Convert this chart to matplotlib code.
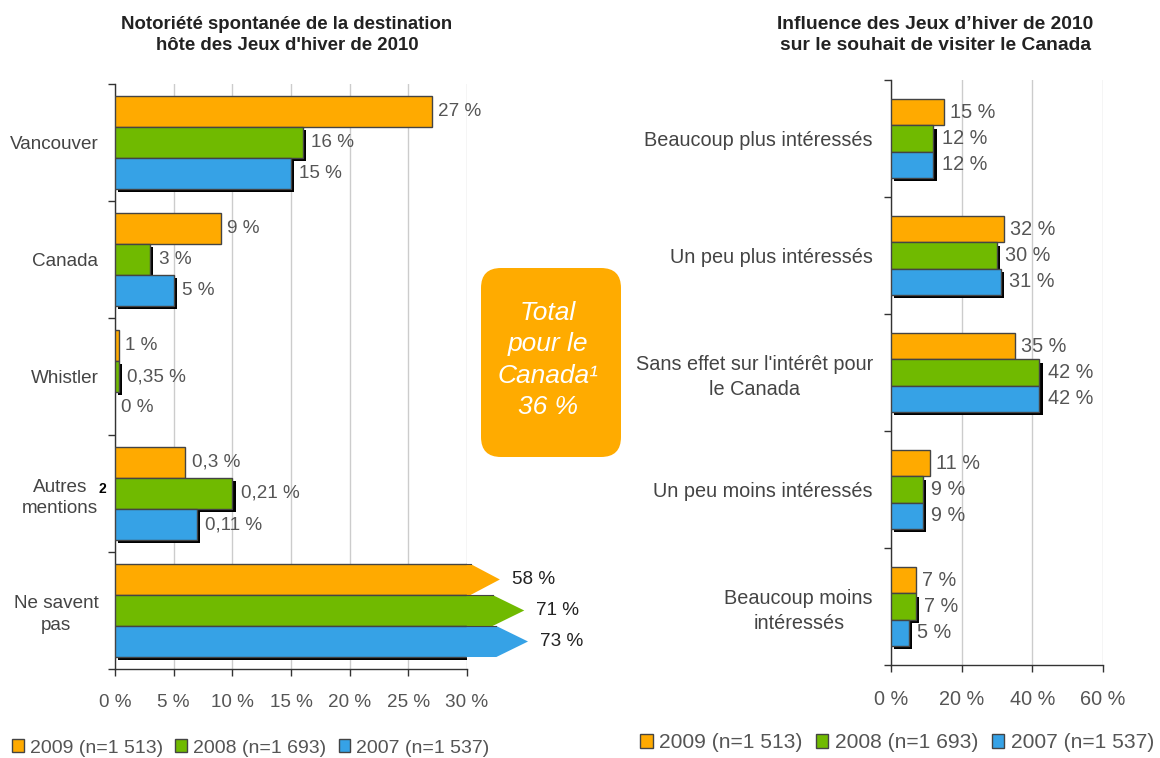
import matplotlib
matplotlib.use('Agg')
import matplotlib.pyplot as plt
from matplotlib.patches import Patch, Polygon, FancyBboxPatch
import matplotlib.patheffects as pe
import numpy as np

plt.rcParams['font.family'] = ['Liberation Sans', 'DejaVu Sans']

# ---------------- data ----------------
series = ['2009 (n=1 513)', '2008 (n=1 693)', '2007 (n=1 537)']
colors = ['#FFAA00', '#70BA00', '#36A2E6']

left_title = "Notoriété spontanée de la destination\nhôte des Jeux d'hiver de 2010"
left_cats = ['Vancouver', 'Canada', 'Whistler', 'Autres\nmentions', 'Ne savent\npas']
left_2009 = [27, 9, 0.3, 6, 58]
left_2008 = [16, 3, 0.3, 10, 71]
left_2007 = [15, 5, 0, 7, 73]
left_lbl_2009 = ['27 %', '9 %', '1 %', '0,3 %', '58 %']
left_lbl_2008 = ['16 %', '3 %', '0,35 %', '0,21 %', '71 %']
left_lbl_2007 = ['15 %', '5 %', '0 %', '0,11 %', '73 %']
left_xticks = [0, 5, 10, 15, 20, 25, 30]

right_title = "Influence des Jeux d’hiver de 2010\nsur le souhait de visiter le Canada"
right_cats = ['Beaucoup plus intéressés', 'Un peu plus intéressés',
              "Sans effet sur l'intérêt pour\nle Canada", 'Un peu moins intéressés',
              'Beaucoup moins\nintéressés']
right_2009 = [15, 32, 35, 11, 7]
right_2008 = [12, 30, 42, 9, 7]
right_2007 = [12, 31, 42, 9, 5]
right_xticks = [0, 20, 40, 60]

box_text = 'Total\npour le\nCanada¹\n36 %'
footnote_autres = '2'

# ---------------- figure ----------------
W, H = 1160, 758
fig = plt.figure(figsize=(W / 100, H / 100), dpi=100)

def fx(px):
    return px / W

def fy(py):
    return 1 - py / H

TXT = '#555555'
CAT = '#444444'
EDGE = '#444444'


def draw(ax, cats, vals, labels, xticks, ypad, h, fs):
    n = len(cats)
    y = np.arange(n)
    xmax = xticks[-1]
    ax.set_xlim(0, xmax)
    ax.set_ylim(n - 0.5, -0.5)
    for i, (v, c, lab) in enumerate(zip(vals, colors, labels)):
        off = (i - 1) * h
        v = np.asarray(v, dtype=float)
        lws = [1.0 if vv > 0 else 0 for vv in v]
        bars = ax.barh(y + off, v, height=h, color=c, edgecolor=EDGE,
                       linewidth=lws, zorder=3)
        if i > 0:
            for b, vv in zip(bars, v):
                if vv > 0:
                    b.set_path_effects([pe.SimplePatchShadow(offset=(2.3, -2.3),
                                                             shadow_rgbFace='black', alpha=1),
                                        pe.Normal()])
        for yy, vv, tt in zip(y + off, v, lab):
            if vv > xmax:
                # value beyond the axis: draw an arrow head past the clipped bar
                tip = xmax + 0.16 * (vv - xmax) - 1.68
                body = max(tip - 2.7, xmax + 0.3)
                poly = Polygon([(xmax - 0.05, yy - h / 2), (body, yy - h / 2), (tip, yy),
                                (body, yy + h / 2), (xmax - 0.05, yy + h / 2)],
                               closed=True, facecolor=c, edgecolor='none',
                               clip_on=False, zorder=3)
                ax.add_patch(poly)
                ax.plot([xmax - 0.05, body], [yy - h / 2, yy - h / 2], color=EDGE,
                        lw=0.8, clip_on=False, zorder=4)
                ax.annotate(tt, (tip, yy), xytext=(8.5, 0), textcoords='offset points',
                            ha='left', va='center', fontsize=fs, color='#222222',
                            annotation_clip=False)
            else:
                extra = 1.5 if (i > 0 and vv > 0) else 0
                ax.annotate(tt, (vv, yy), xytext=(4.5 + extra, 0), textcoords='offset points',
                            ha='left', va='center', fontsize=fs, color=TXT,
                            annotation_clip=False)
    ax.set_yticks(y)
    ax.set_yticklabels(cats, fontsize=fs, color=CAT, multialignment='center',
                       linespacing=1.35)
    ax.set_yticks(np.arange(n + 1) - 0.5, minor=True)
    ax.tick_params(axis='y', which='major', length=0, pad=ypad)
    ax.tick_params(axis='y', which='minor', length=5, width=1, color='#333333', direction='out')
    ax.set_xticks(xticks)
    ax.set_xticklabels([f'{t} %' for t in xticks], fontsize=fs, color=TXT)
    ax.tick_params(axis='x', which='major', length=5, width=1, color='#333333', pad=13)
    ax.xaxis.grid(True, color='#cccccc', lw=1)
    ax.set_axisbelow(True)
    for s in ['top', 'right']:
        ax.spines[s].set_visible(False)
    for s in ['left', 'bottom']:
        ax.spines[s].set_color('#333333')
        ax.spines[s].set_linewidth(1)


axL = fig.add_axes([fx(115), fy(669), fx(467) - fx(115), fy(84) - fy(669)])
draw(axL, left_cats, [left_2009, left_2008, left_2007],
     [left_lbl_2009, left_lbl_2008, left_lbl_2007], left_xticks, 12, 0.265, 13.6)

axR = fig.add_axes([fx(891), fy(665), fx(1103) - fx(891), fy(80) - fy(665)])
draw(axR, right_cats, [right_2009, right_2008, right_2007],
     [[f'{v} %' for v in right_2009], [f'{v} %' for v in right_2008],
      [f'{v} %' for v in right_2007]], right_xticks, 13, 0.225, 14.3)

# titles
fig.text(fx(287), fy(35), left_title, ha='center', va='center', fontsize=13.4,
         fontweight='bold', color='#222222', linespacing=1.32)
fig.text(fx(935), fy(35), right_title, ha='center', va='center', fontsize=13.9,
         fontweight='bold', color='#222222', linespacing=1.28)

# footnote marker for "Autres mentions"
fig.text(fx(102), fy(489), footnote_autres, ha='center', va='center', fontsize=10,
         fontweight='bold', color='black')

# orange callout box (pixel overlay)
ov = fig.add_axes([0, 0, 1, 1], zorder=5)
ov.set_xlim(0, W)
ov.set_ylim(H, 0)
ov.axis('off')
ov.add_patch(FancyBboxPatch((481, 268), 140, 189, boxstyle='round,pad=0,rounding_size=20',
                            facecolor='#FFAB00', edgecolor='none'))
ov.text(548, 360, box_text, ha='center', va='center', fontsize=19, style='italic',
        color='white', linespacing=1.38)

# legends
handles = [Patch(facecolor=c, edgecolor=EDGE, linewidth=1) for c in colors]
for xpx, ypx, fsz in [(12, 748, 14.0), (640, 743, 15.1)]:
    fig.legend(handles, series, loc='center left', bbox_to_anchor=(fx(xpx), fy(ypx)),
               ncol=3, frameon=False, fontsize=fsz, handlelength=0.6, handleheight=0.6,
               handletextpad=0.3, columnspacing=0.65, borderaxespad=0, borderpad=0,
               labelcolor=TXT)

fig.savefig('out.png', dpi=100)
